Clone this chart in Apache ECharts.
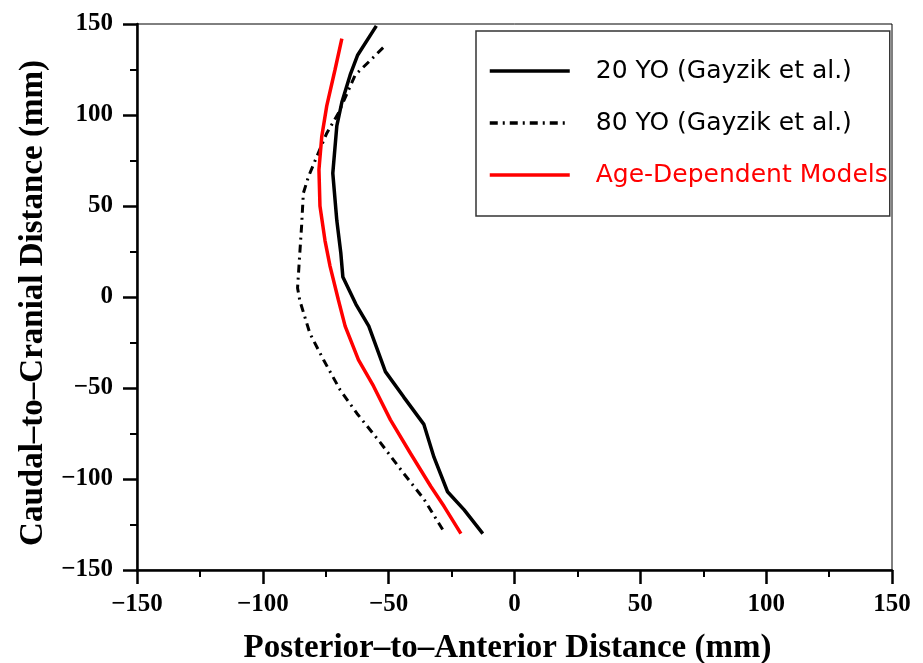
<!DOCTYPE html>
<html>
<head>
<meta charset="utf-8">
<script src="https://cdn.jsdelivr.net/npm/echarts@6/dist/echarts.min.js"></script>
<style>
  html, body { margin: 0; padding: 0; background: #fff; }
  #chart { width: 923px; height: 663px; }
</style>
</head>
<body>
<div id="chart"></div>
<script>
// [posterior-to-anterior, caudal-to-cranial] in mm
const young20 = [
    [-54.9, 149], [-62.3, 133], [-65.3, 122], [-68.6, 107], [-70.6, 94],
    [-72.2, 68], [-70.6, 42], [-69, 24], [-68.2, 11], [-63, -4],
    [-57.9, -16], [-51.3, -41], [-44, -55], [-36, -70], [-32, -88],
    [-26.6, -107], [-20, -117], [-12.6, -130]
];
const old80 = [
    [-52.2, 137], [-57.3, 130], [-63.3, 122], [-70, 101], [-74.6, 90],
    [-78.6, 77], [-81.9, 66], [-83.9, 57], [-84.6, 39], [-85.5, 20],
    [-86.2, 5], [-85.3, -2], [-81.3, -20], [-75.9, -34.5], [-69.3, -51],
    [-62.6, -64], [-53.3, -80], [-44, -97], [-36, -111], [-28, -129]
];
const ageModel = [
    [-68.6, 142], [-71.3, 125], [-74.6, 105], [-76.6, 88], [-77.7, 70],
    [-77.3, 50], [-75.3, 31], [-73.3, 17], [-70, -1.5], [-67.3, -16],
    [-62, -34.5], [-56, -49], [-49.3, -67.5], [-41.3, -86], [-33.3, -104],
    [-28, -115], [-21.3, -130]
];
const seriesNames = ['20 YO (Gayzik et al.)', '80 YO (Gayzik et al.)', 'Age-Dependent Models'];
const axisMin = -150;
const axisMax = 150;
const axisStep = 50;

const chart = echarts.init(document.getElementById('chart'));

const minus = v => String(v).replace('-', '\u2212');
const tickFont = {
    fontFamily: 'Liberation Serif',
    fontWeight: 'bold',
    fontSize: 25,
    color: '#000'
};
const titleFont = {
    fontFamily: 'Liberation Serif',
    fontWeight: 'bold',
    fontSize: 33,
    color: '#000'
};
const axisCommon = {
    type: 'value',
    min: axisMin,
    max: axisMax,
    interval: axisStep,
    nameLocation: 'middle',
    axisLine: { show: true, onZero: false, lineStyle: { color: '#000', width: 2.5 } },
    axisTick: { show: true, length: 14, lineStyle: { color: '#000', width: 2.5 } },
    minorTick: { show: true, splitNumber: 2, length: 7, lineStyle: { color: '#000', width: 2 } },
    splitLine: { show: false },
    axisLabel: Object.assign({ formatter: minus }, tickFont)
};

chart.setOption({
    backgroundColor: '#fff',
    animation: false,
    grid: {
        left: 137, right: 31, top: 24, bottom: 93,
        outerBoundsMode: 'none',
        containLabel: false,
        show: true, borderColor: '#000', borderWidth: 1
    },
    xAxis: Object.assign({}, axisCommon, {
        name: 'Posterior\u2013to\u2013Anterior Distance (mm)',
        nameGap: 62,
        nameTextStyle: Object.assign({ padding: [0, 14, 0, 0] }, titleFont),
        axisLabel: Object.assign({}, axisCommon.axisLabel, { margin: 22 })
    }),
    yAxis: Object.assign({}, axisCommon, {
        name: 'Caudal\u2013to\u2013Cranial Distance (mm)',
        nameGap: 85,
        nameTextStyle: Object.assign({ padding: [0, 12, 0, 0] }, titleFont),
        axisLabel: Object.assign({}, axisCommon.axisLabel, { margin: 24 })
    }),
    legend: {
        orient: 'vertical',
        left: 476,
        top: 31,
        padding: [25, 2, 26, 12],
        itemWidth: 80,
        itemHeight: 14,
        itemGap: 22,
        borderColor: '#333',
        borderWidth: 1.5,
        itemStyle: { color: 'rgba(0,0,0,0)', borderWidth: 0 },
        lineStyle: { width: 3.5 },
        textStyle: {
            fontFamily: 'DejaVu Sans',
            fontSize: 25,
            lineHeight: 30,
            padding: [0, 0, 0, 21],
            color: '#000'
        },
        data: [
            { name: seriesNames[0] },
            { name: seriesNames[1] },
            { name: seriesNames[2], textStyle: { color: '#ff0000' } }
        ]
    },
    series: [
        {
            name: seriesNames[0],
            type: 'line',
            data: young20,
            symbol: 'none',
            lineStyle: { color: '#000', width: 3.5 },
            itemStyle: { color: '#000' }
        },
        {
            name: seriesNames[1],
            type: 'line',
            data: old80,
            symbol: 'none',
            lineStyle: { color: '#000', width: 3, type: [8, 5, 2, 5] },
            itemStyle: { color: '#000' }
        },
        {
            name: seriesNames[2],
            type: 'line',
            data: ageModel,
            symbol: 'none',
            lineStyle: { color: '#ff0000', width: 3.5 },
            itemStyle: { color: '#ff0000' }
        }
    ]
});
</script>
</body>
</html>
